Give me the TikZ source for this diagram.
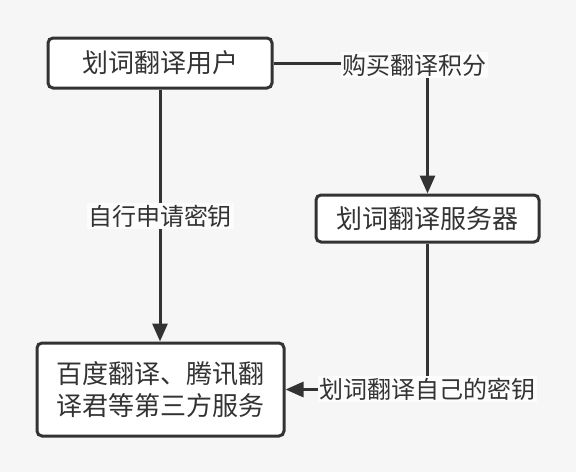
\documentclass[tikz,border=0pt]{standalone}
\usepackage{fontspec}
\usepackage{xcolor}
\usetikzlibrary{arrows.meta, positioning}
\setmainfont{Noto Sans CJK SC}
\definecolor{ink}{HTML}{333333}
\definecolor{paper}{HTML}{F6F6F6}
\definecolor{tag}{HTML}{FCFCFC}
\tikzset{
  box/.style={rectangle, draw=ink, fill=white, rounded corners=5pt, line width=3pt,
              text=ink, font=\fontsize{26}{32}\selectfont, align=center},
  lbl/.style={fill=tag, text=ink, inner sep=1.5pt, font=\fontsize{24}{28}\selectfont},
  arc/.style={-{Triangle[length=18pt, width=15pt]}, line width=3pt, draw=ink}
}
\begin{document}
\begin{tikzpicture}[x=1pt, y=-1pt]
    \fill[paper] (0,0) rectangle (576,472);
    \useasboundingbox (0,0) rectangle (576,472);
    \node[box, minimum width=224pt, minimum height=50pt] (user) at (160,63) {划词翻译用户};
    \node[box, minimum width=223pt, minimum height=47pt] (server) at (427.5,218.5) {划词翻译服务器};
    \node[box, minimum width=247pt, minimum height=93pt] (third) at (160.5,389.5)
         {百度翻译、腾讯翻\\译君等第三方服务};
    \draw[arc] (user.east) -| (server.north);
    \draw[arc] (user.south) -- (user.south |- third.north);
    \draw[arc] (server.south) |- (third.east);
    \node[lbl] (buy) at (414,65) {购买翻译积分};
    \node[lbl] (apply) at (160,216) {自行申请密钥};
    \node[lbl] (own) at (427,389) {划词翻译自己的密钥};
  \end{tikzpicture}
\end{document}
